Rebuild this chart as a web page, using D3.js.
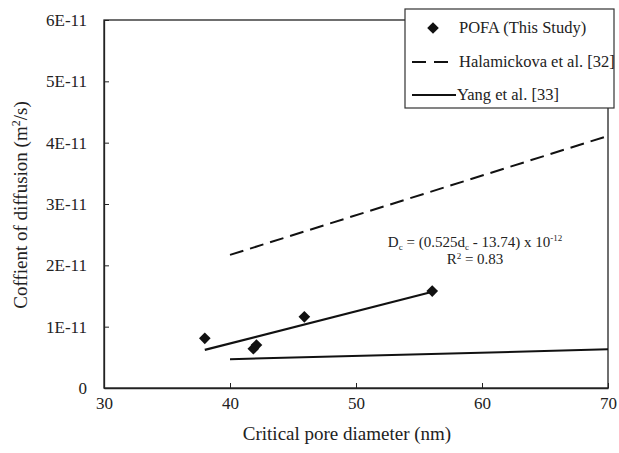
<!DOCTYPE html>
<html>
<head>
<meta charset="utf-8">
<script src="https://cdn.jsdelivr.net/npm/d3@7"></script>
<style>
  html, body { margin: 0; padding: 0; background: #fff; }
  svg { display: block; }
</style>
</head>
<body>
<svg id="chart" width="619" height="453"></svg>
<script>
// Critical pore diameter (nm) vs. coefficient of diffusion (m²/s)
const pofaDiameter = [38.0, 41.85, 42.1, 45.9, 56.05];
const pofaDiffusion = [8.1e-12, 6.4e-12, 7.0e-12, 11.6e-12, 15.8e-12];

// Fitted trend for POFA: Dc = (0.525 dc - 13.74) x 10^-12
const fitSlope = 0.525;
const fitIntercept = -13.74;
const fitRange = [38, 56];

// Reference relationships from the literature
const halamickovaX = [40, 70];
const halamickovaY = [2.17e-11, 4.11e-11];
const yangX = [40, 70];
const yangY = [0.47e-11, 0.63e-11];

const xTicks = [30, 40, 50, 60, 70];
const yTicks = [0, 1e-11, 2e-11, 3e-11, 4e-11, 5e-11, 6e-11];
const yTickLabels = ["0", "1E-11", "2E-11", "3E-11", "4E-11", "5E-11", "6E-11"];

const legendLabels = ["POFA (This Study)", "Halamickova et al. [32]", "Yang et al. [33]"];

const SERIF = "'Liberation Serif', 'Times New Roman', serif";
const INK = "#222";

const svg = d3.select("#chart").attr("font-family", SERIF);
const plotLeft = 104, plotRight = 608, plotTop = 20, plotBottom = 388;

const x = d3.scaleLinear().domain([30, 70]).range([plotLeft, plotRight]);
const y = d3.scaleLinear().domain([0, 6e-11]).range([plotBottom, plotTop]);

// Frame
svg.append("rect")
  .attr("x", plotLeft).attr("y", plotTop)
  .attr("width", plotRight - plotLeft).attr("height", plotBottom - plotTop)
  .attr("fill", "none").attr("stroke", INK).attr("stroke-width", 1.3);

// Axes with inward ticks
const xAxis = d3.axisBottom(x).tickValues(xTicks).tickSizeInner(-5).tickSizeOuter(0).tickPadding(9);
const gx = svg.append("g").attr("transform", `translate(0,${plotBottom})`).call(xAxis)
  .attr("font-family", SERIF).attr("font-size", 17);
gx.select(".domain").attr("stroke", INK).attr("stroke-width", 1.3);
gx.selectAll(".tick line").attr("stroke", INK);
gx.selectAll(".tick text").attr("fill", INK);

const yAxis = d3.axisLeft(y).tickValues(yTicks).tickSizeInner(-5).tickSizeOuter(0).tickPadding(17)
  .tickFormat((d, i) => yTickLabels[i]);
const gy = svg.append("g").attr("transform", `translate(${plotLeft},0)`).call(yAxis)
  .attr("font-family", SERIF).attr("font-size", 17);
gy.select(".domain").attr("stroke", INK).attr("stroke-width", 1.3);
gy.selectAll(".tick line").attr("stroke", INK);
gy.selectAll(".tick text").attr("fill", INK);

// Axis titles
svg.append("text")
  .attr("x", 347).attr("y", 440)
  .attr("text-anchor", "middle").attr("font-size", 19).attr("fill", INK)
  .text("Critical pore diameter (nm)");

const yTitle = svg.append("text")
  .attr("transform", `translate(27,205) rotate(-90)`)
  .attr("text-anchor", "middle").attr("font-size", 19).attr("fill", INK);
yTitle.append("tspan").text("Coffient of diffusion (m");
yTitle.append("tspan").attr("font-size", 12).attr("dy", -7).text("2");
yTitle.append("tspan").attr("dy", 7).text("/s)");

const line = d3.line().x(d => x(d[0])).y(d => y(d[1]));

// Halamickova et al. (dashed)
svg.append("path")
  .datum(halamickovaX.map((v, i) => [v, halamickovaY[i]]))
  .attr("d", line).attr("fill", "none").attr("stroke", "#111")
  .attr("stroke-width", 2).attr("stroke-dasharray", "14,7");

// Yang et al. (solid)
svg.append("path")
  .datum(yangX.map((v, i) => [v, yangY[i]]))
  .attr("d", line).attr("fill", "none").attr("stroke", "#111")
  .attr("stroke-width", 2);

// POFA linear fit
svg.append("path")
  .datum(fitRange.map(v => [v, (fitSlope * v + fitIntercept) * 1e-12]))
  .attr("d", line).attr("fill", "none").attr("stroke", "#111")
  .attr("stroke-width", 2.2);

// POFA measurements
const diamond = d3.symbol().type(d3.symbolSquare).size(68);
svg.append("g").selectAll("path")
  .data(pofaDiameter.map((v, i) => [v, pofaDiffusion[i]]))
  .join("path")
  .attr("d", diamond)
  .attr("transform", d => `translate(${x(d[0])},${y(d[1])}) rotate(45)`)
  .attr("fill", "#111");

// Fit equation
const eq = svg.append("text")
  .attr("x", 475).attr("y", 247).attr("text-anchor", "middle").attr("font-size", 15).attr("fill", INK);
eq.append("tspan").text("D");
eq.append("tspan").attr("font-size", 9).attr("dy", 3).text("c");
eq.append("tspan").attr("dy", -3).text(" = (0.525d");
eq.append("tspan").attr("font-size", 9).attr("dy", 3).text("c");
eq.append("tspan").attr("dy", -3).text(" - 13.74) x 10");
eq.append("tspan").attr("font-size", 9).attr("dy", -6).text("-12");

const r2 = svg.append("text")
  .attr("x", 475).attr("y", 264).attr("text-anchor", "middle").attr("font-size", 15).attr("fill", INK);
r2.append("tspan").text("R");
r2.append("tspan").attr("font-size", 9).attr("dy", -5).text("2");
r2.append("tspan").attr("dy", 5).text(" = 0.83");

// Legend
const lg = svg.append("g");
lg.append("rect")
  .attr("x", 405).attr("y", 9).attr("width", 209).attr("height", 99)
  .attr("fill", "#fff").attr("stroke", "#333").attr("stroke-width", 1.2);

const rowY = [28, 62, 95];
lg.append("path").attr("d", diamond)
  .attr("transform", `translate(433,${rowY[0]}) rotate(45)`).attr("fill", "#111");
lg.append("line").attr("x1", 412).attr("x2", 450).attr("y1", rowY[1]).attr("y2", rowY[1])
  .attr("stroke", "#111").attr("stroke-width", 2).attr("stroke-dasharray", "14,8");
lg.append("line").attr("x1", 412).attr("x2", 456).attr("y1", rowY[2]).attr("y2", rowY[2])
  .attr("stroke", "#111").attr("stroke-width", 2);

lg.selectAll("text.lbl").data(legendLabels).join("text")
  .attr("class", "lbl")
  .attr("x", (d, i) => i === 2 ? 457 : 459)
  .attr("y", (d, i) => rowY[i] + 5)
  .attr("font-size", 16.5).attr("fill", INK)
  .text(d => d);
</script>
</body>
</html>
